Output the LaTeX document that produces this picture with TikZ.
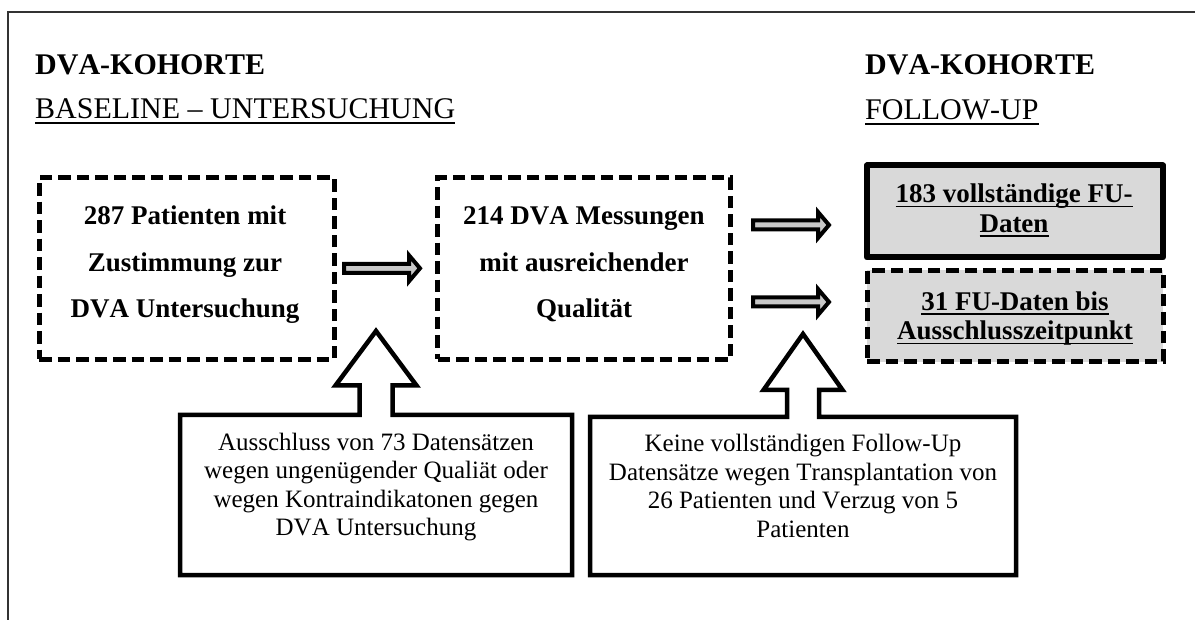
\documentclass[tikz,border=0pt]{standalone}
\usepackage{fontspec}
\setmainfont{Liberation Serif}[Kerning=Off]
\usetikzlibrary{calc}
\definecolor{boxgray}{HTML}{D9D9D9}
\definecolor{arrowgray}{HTML}{C8C8C8}
\definecolor{framegray}{HTML}{333333}
\newcommand\myul[1]{\leavevmode\setbox0=\hbox{#1}\rlap{\rule[-0.16em]{\wd0}{0.065em}}\box0}
\newcommand\blkarrow[1]{\draw[blockarrow, shift={(#1)}] (0,-4.5) -- (65,-4.5) -- (65,-13) -- (76,0) -- (65,13) -- (65,4.5) -- (0,4.5) -- cycle;}
\tikzset{
  dbox/.style={draw, line width=5, dash pattern=on 12.5pt off 6pt, inner sep=0, rectangle},
  sbox/.style={draw, line width=6, line join=round, fill=boxgray, inner sep=0, rectangle},
  gdbox/.style={dbox, fill=boxgray},
  blockarrow/.style={draw=black, line width=4, fill=arrowgray, line join=miter},
  callout/.style={draw=black, line width=4.5, line join=miter, fill=white},
  frame/.style={draw=framegray, line width=1.6},
  head/.style={anchor=base west, inner sep=0, font=\fontsize{30}{36}\selectfont},
  btext/.style={anchor=base, inner sep=0, font=\fontsize{27}{46.5}\selectfont\bfseries},
  ftext/.style={anchor=base, inner sep=0, font=\fontsize{27}{29.5}\selectfont\bfseries},
  ctext/.style={anchor=base, inner sep=0, font=\fontsize{25}{28.5}\selectfont},
}
\begin{document}
\begin{tikzpicture}[x=1pt, y=-1pt]
\useasboundingbox (0,0) rectangle (1195,620);
\fill[white] (0,0) rectangle (1195,620);
% frame
\coordinate (fTR) at (1195,12);
\coordinate (fTL) at (8,12);
\coordinate (fBL) at (8,620);
\draw[frame] (fTR) -- (fTL) -- (fBL);
% headings
\node[head, font=\fontsize{30}{36}\selectfont\bfseries] (h1) at (35,75) {DVA-KOHORTE};
\node[head] (h2) at (35,119) {\myul{BASELINE – UNTERSUCHUNG}};
\node[head, font=\fontsize{30}{36}\selectfont\bfseries] (h3) at (865,75) {DVA-KOHORTE};
\node[head] (h4) at (865,120) {\myul{FOLLOW-UP}};
% boxes
\node[dbox, minimum width=295, minimum height=181.5] (b1) at (186.5,268.3) {};
\node[dbox, minimum width=293, minimum height=181.5] (b2) at (584,268.3) {};
\node[sbox, minimum width=296, minimum height=92] (b3) at (1015,211.5) {};
\node[gdbox, minimum width=296, minimum height=91.5] (b4) at (1015,316.25) {};
% box texts
\node[btext] (t1) at (185,225) {\begin{tabular}[t]{@{}c@{}}287 Patienten mit\\Zustimmung zur\\DVA Untersuchung\end{tabular}};
\node[btext] (t2) at (584,225) {\begin{tabular}[t]{@{}c@{}}214 DVA Messungen\\mit ausreichender\\Qualität\end{tabular}};
\node[ftext] (t3) at (1014,203) {\begin{tabular}[t]{@{}c@{}}\myul{183 vollständige FU-}\\\myul{Daten}\end{tabular}};
\node[ftext] (t4) at (1015,310.5) {\begin{tabular}[t]{@{}c@{}}\myul{31 FU-Daten bis}\\\myul{Ausschlusszeitpunkt}\end{tabular}};
% block arrows
\coordinate (a1) at ($(b1.center)!0!(b2.center)+(157.5,0)$);
\coordinate (a2) at (753,225);
\coordinate (a3) at (753,302);
\blkarrow{a1}
\blkarrow{a2}
\blkarrow{a3}
% callouts
\draw[callout] (180,415) -- (359.5,415) -- (359.5,385.5) -- (335.5,385.5) -- (376,331) -- (416.5,385.5) -- (392.5,385.5) -- (392.5,415) -- (572,415) -- (572,575) -- (180,575) -- cycle;
\draw[callout] (590,417) -- (787,417) -- (787,390) -- (763.5,390) -- (803,334) -- (842.5,390) -- (819,390) -- (819,417) -- (1016,417) -- (1016,575) -- (590,575) -- cycle;
\node[ctext] (c1) at (376,450) {\begin{tabular}[t]{@{}c@{}}Ausschluss von 73 Datensätzen\\wegen ungenügender Qualiät oder\\wegen Kontraindikatonen gegen\\DVA Untersuchung\end{tabular}};
\node[ctext] (c2) at (803,452) {\begin{tabular}[t]{@{}c@{}}Keine vollständigen Follow-Up\\Datensätze wegen Transplantation von\\26 Patienten und Verzug von 5\\Patienten\end{tabular}};
\end{tikzpicture}
\end{document}
